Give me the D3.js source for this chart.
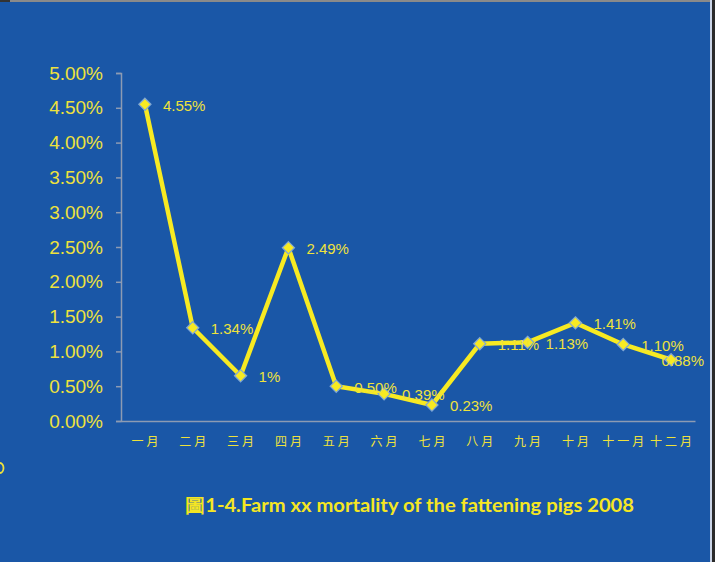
<!DOCTYPE html>
<html><head><meta charset="utf-8">
<script src="https://cdn.jsdelivr.net/npm/d3@7/dist/d3.min.js"></script>
<style>
html,body{margin:0;padding:0;background:#2b2b2b;}
svg{display:block;}
</style></head>
<body>
<svg id="chart" width="715" height="562"></svg>
<script>
const categories = ["一月","二月","三月","四月","五月","六月","七月","八月","九月","十月","十一月","十二月"];
const mortality = [4.55, 1.34, 0.65, 2.49, 0.50, 0.39, 0.23, 1.11, 1.13, 1.41, 1.10, 0.88];
const pointLabels = ["4.55%","1.34%","1%","2.49%","0.50%","0.39%","0.23%","1.11%","1.13%","1.41%","1.10%","0.88%"];
const yTicks = [0, 0.5, 1.0, 1.5, 2.0, 2.5, 3.0, 3.5, 4.0, 4.5, 5.0];
const titleText = "圖1-4.Farm xx mortality of the fattening pigs 2008";

const W = 715, H = 562;
const bg = "#1a57a7", yellow = "#f7ea22", textYellow = "#efe23c", axisGrey = "#8d9bb3";
const svg = d3.select("#chart");

// frame
svg.append("rect").attr("x",0).attr("y",0).attr("width",W).attr("height",H).attr("fill","#2a2a2a");
svg.append("rect").attr("x",0).attr("y",2).attr("width",710).attr("height",H-2).attr("fill",bg);
svg.append("rect").attr("x",0).attr("y",0).attr("width",710).attr("height",2).attr("fill","#8a8a8a");
svg.append("rect").attr("x",0).attr("y",0).attr("width",10).attr("height",2).attr("fill","#333");
svg.append("rect").attr("x",710).attr("y",0).attr("width",2).attr("height",H).attr("fill","#c9d3e6");

const x = d3.scaleBand().domain(categories).range([121, 695]);
const y = d3.scaleLinear().domain([0, 5]).range([421, 73]);

// y axis
const yAxis = svg.append("g").attr("transform","translate(121,0)")
  .call(d3.axisLeft(y).tickValues(yTicks).tickSize(5).tickPadding(13).tickFormat(d => d.toFixed(2) + "%"));
yAxis.select(".domain").attr("stroke", axisGrey).attr("stroke-width",1.5);
yAxis.selectAll(".tick line").attr("stroke", axisGrey).attr("stroke-width",1.5);
yAxis.selectAll(".tick text").attr("fill", textYellow)
  .attr("font-family","'Liberation Sans', Arial, sans-serif").attr("font-size","19px");

// x axis
const xAxis = svg.append("g").attr("transform","translate(0,421)")
  .call(d3.axisBottom(x).tickSize(0).tickPadding(16));
xAxis.select(".domain").attr("stroke", axisGrey).attr("stroke-width",1.5);
xAxis.selectAll(".tick text").attr("fill", textYellow)
  .attr("font-family","'Noto Sans CJK SC', sans-serif").attr("font-size","12px")
  .attr("letter-spacing","3px").attr("dx","1.5px");

// line
const line = d3.line().x((d,i) => x(categories[i]) + x.bandwidth()/2).y(d => y(d));
svg.append("path").datum(mortality).attr("d", line)
  .attr("fill","none").attr("stroke", yellow).attr("stroke-width",4.5).attr("stroke-linejoin","round");

// markers
const sym = d3.symbol().type(d3.symbolDiamond2).size(95);
svg.append("g").selectAll("path").data(mortality).join("path")
  .attr("transform",(d,i) => `translate(${x(categories[i]) + x.bandwidth()/2},${y(d)})`)
  .attr("d", sym).attr("fill", yellow).attr("stroke","#7fa6d6").attr("stroke-width",1.2);

// point labels
const lbl = svg.append("g").selectAll("text").data(mortality).join("text")
  .attr("font-family","'Liberation Sans', Arial, sans-serif").attr("font-size","15px")
  .attr("fill", textYellow)
  .attr("y", d => y(d) + 6.5)
  .text((d,i) => pointLabels[i]);
lbl.each(function(d,i){
  const w = this.getComputedTextLength();
  let lx = x(categories[i]) + x.bandwidth()/2 + 18;
  if (lx + w > 704) lx = 704 - w;
  d3.select(this).attr("x", lx);
});

// stray glyph fragment at left edge (drawn as a shape)
svg.append("path").attr("d","M0,463 A3.5,5 0 0 1 0,473")
  .attr("fill","none").attr("stroke",textYellow).attr("stroke-width",1.8);

// title
svg.append("text").attr("x",185).attr("y",512)
  .attr("font-family","Lato, 'Open Sans', sans-serif").attr("font-weight","bold").attr("font-size","19px")
  .attr("fill", "#f5e623").attr("textLength",449).attr("lengthAdjust","spacingAndGlyphs")
  .text(titleText);
</script>
</body></html>
